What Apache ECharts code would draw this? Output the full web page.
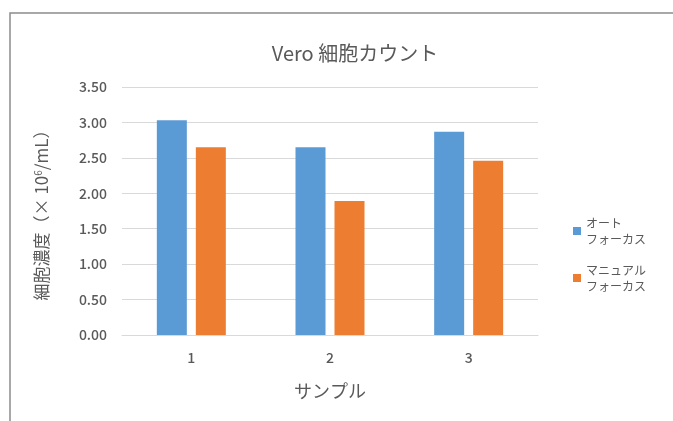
<!DOCTYPE html>
<html>
<head>
<meta charset="utf-8">
<script src="https://cdn.jsdelivr.net/npm/echarts@6/dist/echarts.min.js"></script>
<style>
  html, body { margin: 0; padding: 0; background: #fff; }
  #chart { width: 673px; height: 421px; }
</style>
</head>
<body>
<div id="chart"></div>
<script>
// Cell counts per sample (× 10^6 cells/mL)
const samples = ['1', '2', '3'];
const autoFocus = [3.03, 2.65, 2.87];
const manualFocus = [2.65, 1.89, 2.46];
const seriesNames = ['オート\nフォーカス', 'マニュアル\nフォーカス'];
const yTicks = { min: 0, max: 3.5, interval: 0.5 };

const FONT = '"Noto Sans CJK JP", "Noto Sans", sans-serif';
const TEXT = '#595959';

const chart = echarts.init(document.getElementById('chart'), null, { renderer: 'canvas' });
chart.setOption({
  backgroundColor: '#fff',
  animation: false,
  textStyle: { fontFamily: FONT },
  graphic: [{
    type: 'rect',
    shape: { x: 10, y: 13, width: 700, height: 450 },
    style: { fill: 'none', stroke: '#8c8c8c', lineWidth: 1.5 },
    silent: true,
    z: -1
  }],
  title: {
    text: 'Vero 細胞カウント',
    left: 350,
    top: 38,
    textAlign: 'center',
    textStyle: { fontFamily: FONT, fontSize: 20, fontWeight: 'normal', color: TEXT }
  },
  legend: {
    orient: 'vertical',
    left: 568,
    top: 210,
    icon: 'rect',
    itemWidth: 8,
    itemHeight: 8,
    itemGap: 15,
    textStyle: { fontFamily: FONT, fontSize: 12, color: TEXT, lineHeight: 16 },
    data: seriesNames
  },
  grid: { left: 122, right: 135, top: 87, bottom: 86, containLabel: false },
  xAxis: {
    type: 'category',
    data: samples,
    name: 'サンプル',
    nameLocation: 'middle',
    nameGap: 47,
    nameTextStyle: { fontFamily: FONT, fontSize: 18, color: TEXT },
    axisLine: { lineStyle: { color: '#d9d9d9' } },
    axisTick: { show: false },
    axisLabel: { color: TEXT, fontSize: 14, fontWeight: 500, margin: 16, fontFamily: FONT }
  },
  yAxis: {
    type: 'value',
    min: yTicks.min,
    max: yTicks.max,
    interval: yTicks.interval,
    name: '細胞濃度（× 10{s|6}/mL）',
    nameLocation: 'middle',
    nameGap: 72,
    nameRotate: 90,
    nameTextStyle: {
      fontFamily: FONT, fontSize: 17, color: TEXT,
      rich: { s: { fontSize: 10, verticalAlign: 'top', color: TEXT, fontFamily: FONT, padding: [0, 0, 7, 0] } }
    },
    axisLine: { show: false },
    axisTick: { show: false },
    splitLine: { lineStyle: { color: '#d9d9d9' } },
    axisLabel: {
      color: TEXT, fontSize: 14, fontWeight: 500, margin: 15, fontFamily: FONT,
      formatter: v => v.toFixed(2)
    }
  },
  series: [
    {
      name: seriesNames[0],
      type: 'bar',
      data: autoFocus,
      barWidth: 30,
      barGap: '30%',
      itemStyle: { color: '#5b9bd5' }
    },
    {
      name: seriesNames[1],
      type: 'bar',
      data: manualFocus,
      barWidth: 30,
      barGap: '30%',
      itemStyle: { color: '#ed7d31' }
    }
  ]
});
</script>
</body>
</html>
